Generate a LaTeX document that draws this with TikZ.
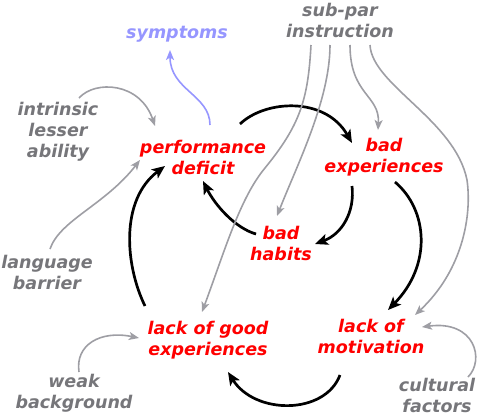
\documentclass[tikz,border=0pt]{standalone}
\usepackage{fontspec}
\setmainfont{DejaVu Sans}
\usetikzlibrary{arrows.meta,calc}
\definecolor{txtgray}{RGB}{118,118,122}
\definecolor{arrgray}{RGB}{158,158,164}
\definecolor{symblue}{RGB}{150,150,255}
\definecolor{keyred}{RGB}{255,0,0}
\begin{document}
\begin{tikzpicture}[x=1pt,y=-1pt,
  lbl/.style={align=center,inner sep=0pt,font=\fontsize{17.5}{21}\selectfont\bfseries\itshape},
  keynode/.style={lbl,text=keyred},
  causenode/.style={lbl,text=txtgray},
  symnode/.style={lbl,text=symblue},
  loop/.style={line width=2.7pt,-{Stealth[length=13pt,width=11pt,inset=3pt]}},
  feed/.style={line width=1.6pt,draw=arrgray,-{Stealth[length=10pt,width=8pt,inset=2.5pt]}},
  symarr/.style={line width=1.6pt,draw=symblue,-{Stealth[length=10pt,width=8pt,inset=2.5pt]}}]
\useasboundingbox (0,0) rectangle (479,416);

\node[symnode] (sym) at (177,34) {symptoms};
\node[causenode] (sub) at (340,20) {sub-par\\instruction};
\node[causenode] (intr) at (58,132) {intrinsic\\lesser\\ability};
\node[keynode] (pd) at (203,157) {performance\\deficit};
\node[keynode] (be) at (384,157) {bad\\experiences};
\node[keynode] (bh) at (281,243) {bad\\habits};
\node[causenode] (lang) at (47,272) {language\\barrier};
\node[keynode] (lge) at (208,340) {lack of good\\experiences};
\node[keynode] (lm) at (371,336) {lack of\\motivation};
\node[causenode] (weak) at (74,393) {weak\\background};
\node[causenode] (cult) at (437,395) {cultural\\factors};

% loop arrows
\draw[loop] ($(pd)+(37,-33)$) .. controls (265,100) and (325,96) .. ($(be)+(-32,-14)$);
\draw[loop] ($(be)+(-32,29)$) .. controls (355,212) and (342,234) .. ($(bh)+(34,1)$);
\draw[loop] ($(bh)+(-25,-9)$) .. controls (235,228) and (215,205) .. ($(pd)+(0,24)$);
\draw[loop] ($(be)+(11,25)$) .. controls (428,210) and (432,265) .. ($(lm)+(17,-26)$);
\draw[loop] ($(lm)+(-31,39)$) .. controls (325,415) and (255,415) .. ($(lge)+(20,32)$);
\draw[loop] ($(lge)+(-63,-34)$) .. controls (125,265) and (120,200) .. ($(pd)+(-38,9)$);

% external causes
\draw[feed] ($(intr)+(21,-34)$) .. controls (95,80) and (140,82) .. ($(pd)+(-48,-31)$);
\draw[feed] ($(lang)+(3,-23)$) .. controls (60,220) and (105,205) .. ($(pd)+(-63,3)$);
\draw[feed] ($(weak)+(5,-21)$) .. controls (75,345) and (100,330) .. ($(lge)+(-69,-2)$);
\draw[feed] ($(cult)+(31,-18)$) .. controls (485,360) and (475,320) .. ($(lm)+(51,-9)$);
\draw[feed] ($(sub)+(-29,25)$) .. controls (308,100) and (300,125) .. (265,168)
  .. controls (240,198) and (225,250) .. ($(lge)+(-6,-28)$);
\draw[feed] ($(sub)+(-10,25)$) .. controls (330,100) and (297,165) .. ($(bh)+(-4,-27)$);
\draw[feed] ($(sub)+(10,25)$) .. controls (350,95) and (380,95) .. ($(be)+(-6,-27)$);
\draw[feed] ($(sub)+(30,25)$) .. controls (372,85) and (455,120) .. (467,180)
  .. controls (472,215) and (463,270) .. ($(lm)+(44,-21)$);

% symptom
\draw[symarr] ($(pd)+(7,-32)$) .. controls (210,95) and (170,90) .. ($(sym)+(-7,16)$);
\end{tikzpicture}
\end{document}
